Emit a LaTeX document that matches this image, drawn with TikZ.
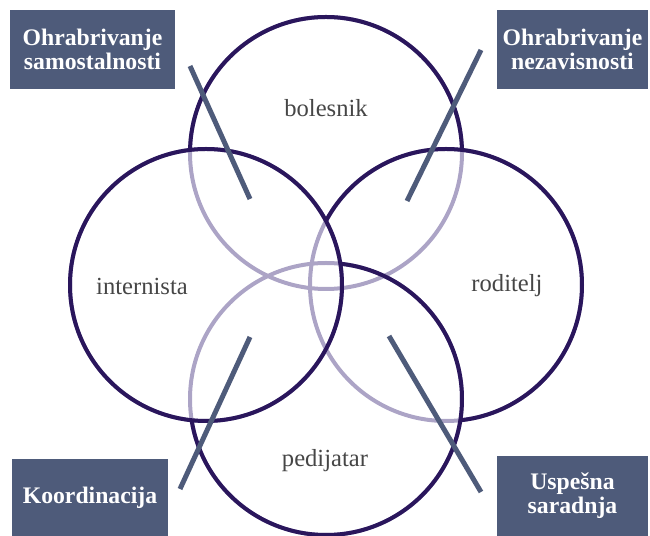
\documentclass[tikz,border=0pt]{standalone}
\usepackage{fontspec}
\setmainfont{Liberation Serif}
\usepackage{tikz}

\definecolor{tamna}{RGB}{42,22,92}
\definecolor{svetla}{RGB}{172,164,198}
\definecolor{plava}{RGB}{78,91,122}
\definecolor{siva}{RGB}{70,70,70}

\begin{document}
\begin{tikzpicture}[x=0.02cm, y=-0.02cm]
        \tikzstyle{every node} = [font=\fontsize{14}{14}\selectfont]
        \tikzstyle{krug}       = [line width=0.08cm]
        \tikzstyle{oznaka}     = [text=siva]
        \tikzstyle{kutija}     = [fill=plava, text=white, align=center, inner sep=0pt, font=\bfseries\fontsize{13.5}{13.5}\selectfont]
        \tikzstyle{crta}       = [draw=plava, line width=0.1cm]
        \def\r{136}
        \def\pix{0.02cm}

        \useasboundingbox (0,0) rectangle (650,536);

        \coordinate (T) at (326,153);
        \coordinate (L) at (206,285);
        \coordinate (R) at (446,285);
        \coordinate (B) at (326,399);

        % Svetli delovi krugova.
        \foreach \c in {T,L,R,B}
            \draw[krug, svetla] (\c) circle[radius=\r];

        % Tamni delovi krugova.
        \draw[krug, tamna] (L) circle[radius=\r];
        \begin{scope}[even odd rule]
            \clip (-50,-50) rectangle (700,600) (L) circle[radius=\r];
            \clip (-50,-50) rectangle (700,600) (R) circle[radius=\r];
            \draw[krug, tamna] (T) circle[radius=\r];
        \end{scope}
        \begin{scope}[even odd rule]
            \clip (-50,-50) rectangle (700,600) (L) circle[radius=\r];
            \clip (-50,-50) rectangle (700,600) (B) circle[radius=\r];
            \draw[krug, tamna] (R) circle[radius=\r];
        \end{scope}
        \begin{scope}[even odd rule]
            \clip (-50,-50) rectangle (700,600) (L) circle[radius=\r];
            \draw[krug, tamna] (B) circle[radius=\r];
        \end{scope}

        \node[oznaka] (bolesnik)   at (326,108) {bolesnik};
        \node[oznaka] (internista) at (142,286) {internista};
        \node[oznaka] (roditelj)   at (507,286) {roditelj};
        \node[oznaka] (pedijatar)  at (325,461) {pedijatar};

        \node[kutija, minimum width=165*\pix, minimum height=79*\pix] (samostalnost) at (92.5,49.5)  {Ohrabrivanje\\samostalnosti};
        \node[kutija, minimum width=151*\pix, minimum height=79*\pix] (nezavisnost)  at (572.5,49.5) {Ohrabrivanje\\nezavisnosti};
        \node[kutija, minimum width=156*\pix, minimum height=77*\pix] (koordinacija) at (90,497.5)   {Koordinacija};
        \node[kutija, minimum width=151*\pix, minimum height=80*\pix] (saradnja)     at (572.5,496)  {Uspešna\\saradnja};

        \coordinate (a1) at (190,66);  \coordinate (a2) at (250,199);
        \coordinate (b1) at (481,50);  \coordinate (b2) at (407,201);
        \coordinate (c1) at (250,337); \coordinate (c2) at (180,489);
        \coordinate (d1) at (389,336); \coordinate (d2) at (481,492);
        \draw[crta] (a1) -- (a2);
        \draw[crta] (b1) -- (b2);
        \draw[crta] (c1) -- (c2);
        \draw[crta] (d1) -- (d2);
    \end{tikzpicture}
\end{document}
